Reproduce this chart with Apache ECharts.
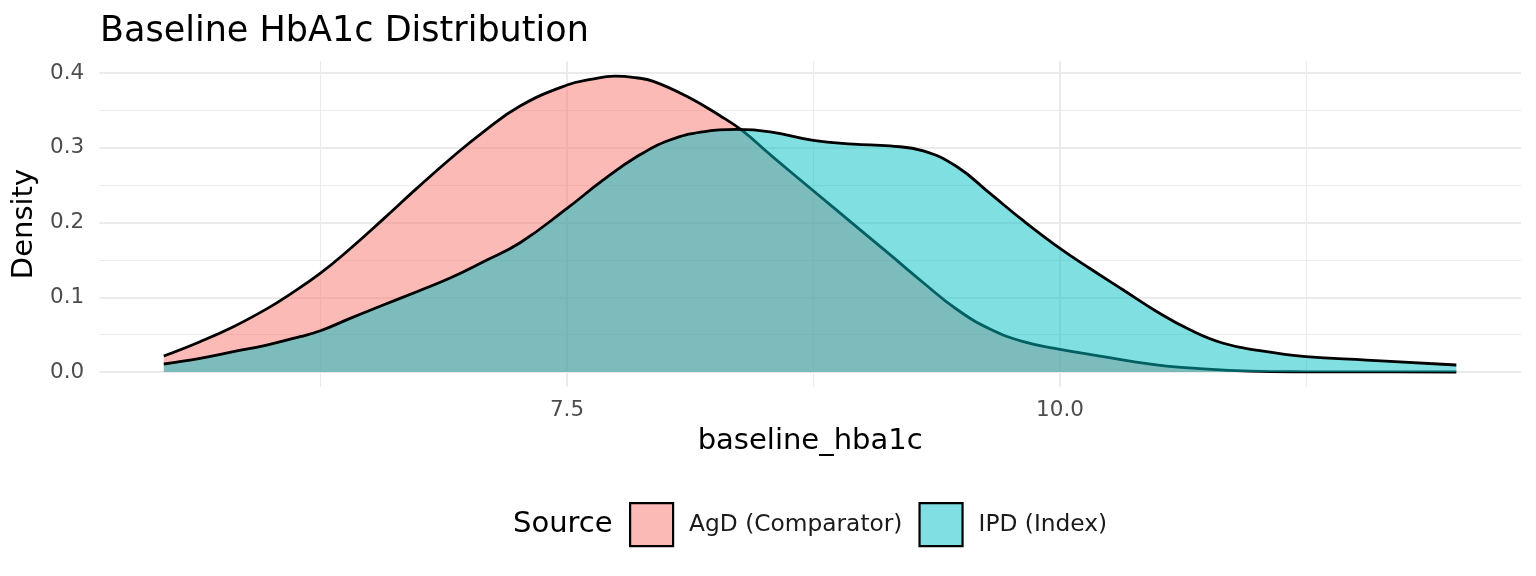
<!DOCTYPE html>
<html>
<head>
<meta charset="utf-8">
<script src="https://cdn.jsdelivr.net/npm/echarts@6/dist/echarts.min.js"></script>
<style>
  html, body { margin: 0; padding: 0; background: #ffffff; }
  #chart { width: 1536px; height: 576px; }
</style>
</head>
<body>
<div id="chart"></div>
<script>
// ---- data ----
const agdX = [5.455, 5.639, 5.808, 5.977, 6.095, 6.253, 6.40, 6.568, 6.738, 6.907, 7.076, 7.262, 7.5, 7.62, 7.743, 7.85, 7.938, 8.107, 8.276, 8.386, 8.53, 8.749, 8.952, 9.138, 9.307, 9.476, 9.645, 9.814, 10.0, 10.203, 10.372, 10.541, 10.71, 10.96, 11.25, 11.6, 12.01];
const agdY = [0.0214, 0.0406, 0.0606, 0.0845, 0.104, 0.133, 0.165, 0.2046, 0.2457, 0.285, 0.3215, 0.356, 0.384, 0.3915, 0.396, 0.3938, 0.389, 0.369, 0.343, 0.3237, 0.291, 0.2425, 0.198, 0.157, 0.1195, 0.084, 0.0575, 0.0406, 0.0303, 0.0214, 0.0138, 0.008, 0.0045, 0.0013, 0.0003, 0.0001, 0.0];
const ipdX = [5.455, 5.639, 5.808, 5.977, 6.146, 6.253, 6.40, 6.568, 6.738, 6.907, 7.076, 7.262, 7.5, 7.684, 7.853, 8.022, 8.191, 8.36, 8.53, 8.749, 8.952, 9.138, 9.307, 9.476, 9.645, 9.814, 10.0, 10.152, 10.321, 10.49, 10.659, 10.828, 11.014, 11.248, 11.555, 12.01];
const ipdY = [0.0107, 0.0183, 0.0272, 0.0361, 0.0473, 0.0555, 0.0718, 0.0896, 0.1075, 0.1258, 0.1476, 0.173, 0.219, 0.257, 0.288, 0.3104, 0.3215, 0.3246, 0.3215, 0.310, 0.305, 0.3025, 0.296, 0.275, 0.239, 0.2025, 0.1654, 0.1385, 0.1097, 0.081, 0.0565, 0.0385, 0.0285, 0.0205, 0.016, 0.0094];
const seriesNames = ['AgD (Comparator)', 'IPD (Index)'];
const xMajorBreaks = [7.5, 10.0];
const xMinorBreaks = [6.25, 8.75, 11.25];
const yMajorBreaks = [0.0, 0.1, 0.2, 0.3, 0.4];
const yMinorBreaks = [0.05, 0.15, 0.25, 0.35];
const xLimits = [5.128, 12.338];
const yLimits = [-0.0198, 0.4158];
const titleText = 'Baseline HbA1c Distribution';
const xTitle = 'baseline_hba1c';
const yTitle = 'Density';
const legendTitle = 'Source';

// ---- styles ----
const FONT = 'DejaVu Sans';
const fillColors = ['#F8766D', '#00BFC4'];
const keyColors = ['#FBBAB6', '#80DFE2'];
const gridColor = '#EBEBEB';

const zip = (xs, ys) => xs.map((x, i) => [x, ys[i]]);

const gridLines = [];
xMajorBreaks.forEach(v => gridLines.push({ xAxis: v, lineStyle: { color: gridColor, width: 2, type: 'solid' } }));
xMinorBreaks.forEach(v => gridLines.push({ xAxis: v, lineStyle: { color: gridColor, width: 1, type: 'solid' } }));
yMajorBreaks.forEach(v => gridLines.push({ yAxis: v, lineStyle: { color: gridColor, width: 2, type: 'solid' } }));
yMinorBreaks.forEach(v => gridLines.push({ yAxis: v, lineStyle: { color: gridColor, width: 1, type: 'solid' } }));

const chart = echarts.init(document.getElementById('chart'), null, { renderer: 'canvas' });

function densitySeries(i, xs, ys) {
  return {
    name: seriesNames[i],
    type: 'line',
    data: zip(xs, ys),
    zlevel: 1,
    z: 2 + i,
    smooth: 0.45,
    symbol: 'none',
    showSymbol: false,
    silent: true,
    itemStyle: { color: keyColors[i] },
    lineStyle: { color: '#000000', width: 2.8 },
    areaStyle: { color: fillColors[i], opacity: 0.5 }
  };
}

chart.setOption({
  animation: false,
  backgroundColor: '#ffffff',
  title: [
    {
      text: titleText, left: 100, top: 14, padding: 0,
      textStyle: { fontFamily: FONT, fontSize: 35, fontWeight: 'normal', color: '#000000' }
    },
    {
      text: legendTitle, left: 513, top: 510, padding: 0,
      textStyle: { fontFamily: FONT, fontSize: 29, fontWeight: 'normal', color: '#000000' }
    }
  ],
  legend: {
    data: seriesNames.map((n, i) => ({
      name: n,
      icon: 'rect',
      itemStyle: { color: keyColors[i], borderColor: '#000000', borderWidth: 2.2 }
    })),
    left: 629, top: 502, padding: 0,
    itemWidth: 43, itemHeight: 43, itemGap: 16,
    textStyle: { fontFamily: FONT, fontSize: 23.3, color: '#1A1A1A', padding: [0, 0, 0, 11] },
    selectedMode: false
  },
  grid: { left: 99.3, right: 15, top: 61.3, bottom: 189.2, containLabel: false },
  xAxis: {
    type: 'value', min: xLimits[0], max: xLimits[1],
    name: xTitle, nameLocation: 'middle', nameGap: 40,
    nameTextStyle: { fontFamily: FONT, fontSize: 29, color: '#000000' },
    axisLine: { show: false }, axisTick: { show: false }, splitLine: { show: false },
    axisLabel: {
      customValues: xMajorBreaks, margin: 13,
      fontFamily: FONT, fontSize: 21.5, color: '#4D4D4D',
      formatter: v => Number(v).toFixed(1)
    }
  },
  yAxis: {
    type: 'value', min: yLimits[0], max: yLimits[1],
    name: yTitle, nameLocation: 'middle', nameGap: 53, nameRotate: 90,
    nameTextStyle: { fontFamily: FONT, fontSize: 29, color: '#000000' },
    axisLine: { show: false }, axisTick: { show: false }, splitLine: { show: false },
    axisLabel: {
      customValues: yMajorBreaks, margin: 15,
      fontFamily: FONT, fontSize: 21.5, color: '#4D4D4D',
      formatter: v => Number(v).toFixed(1)
    }
  },
  series: [
    {
      name: 'grid', type: 'line', data: [], zlevel: 0, z: 1, silent: true,
      markLine: { silent: true, symbol: ['none', 'none'], label: { show: false }, animation: false, data: gridLines }
    },
    densitySeries(0, agdX, agdY),
    densitySeries(1, ipdX, ipdY)
  ]
});
</script>
</body>
</html>
